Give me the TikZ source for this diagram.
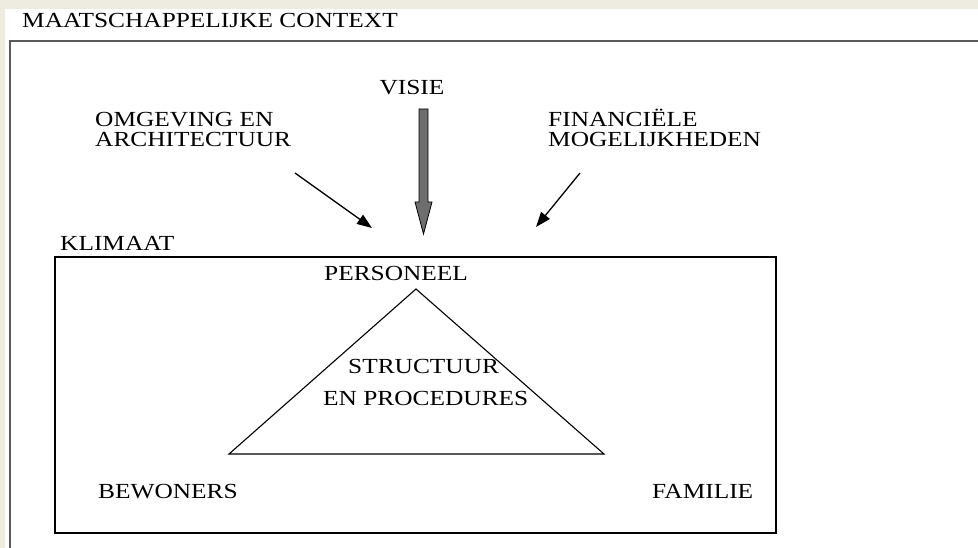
\documentclass[tikz,border=0pt]{standalone}
\usepackage{fontspec}
\setmainfont[FakeStretch=1.18]{Liberation Serif}
\usetikzlibrary{arrows.meta}
\definecolor{beige}{HTML}{EEECE1}
\definecolor{framegray}{HTML}{5A5A5A}
\definecolor{arrowfill}{HTML}{6E6E6E}
\tikzset{
  lbl/.style={inner sep=0pt, anchor=base west, font=\fontsize{21.5}{20}\selectfont, text=black},
  infl/.style={line width=1.3pt, -{Triangle[length=15pt,width=11pt]}},
  boxline/.style={line width=1.3pt, draw=black},
}
\begin{document}
\begin{tikzpicture}[x=1pt,y=-1pt]
\useasboundingbox (0,0) rectangle (978,548);
% background
\fill[beige] (0,0) rectangle (978,548);
\fill[white] (5,9) rectangle (978,548);
% outer frame (society context)
\draw[framegray, line width=1.3pt] (10,548) -- (10,41) -- (978,41);
\node[lbl] (ctx) at (22,28) {MAATSCHAPPELIJKE CONTEXT};
% influences
\node[lbl, anchor=base] (visie) at (412,95) {VISIE};
\node[lbl, align=left] (omg) at (95,147) {OMGEVING EN\\ARCHITECTUUR};
\node[lbl, align=left] (fin) at (548,147) {FINANCIËLE\\MOGELIJKHEDEN};
\coordinate (a1s) at (295,173);
\coordinate (a1e) at (372,228);
\coordinate (a2s) at (580,173);
\coordinate (a2e) at (536,227);
\draw[infl] (a1s) -- (a1e);
\draw[infl] (a2s) -- (a2e);
% big VISIE arrow
\coordinate (vtip) at (423.5,234);
\filldraw[fill=arrowfill, draw=black, line width=0.8pt]
  (419,109) -- (428,109) -- (428,202) -- (432,202) -- (vtip) -- (415,202) -- (419,202) -- cycle;
% climate box
\node[lbl] (klim) at (60,251) {KLIMAAT};
\draw[boxline] (55,257) rectangle (776,533);
% triangle
\coordinate (tt) at (416,289);
\coordinate (tl) at (229,454);
\coordinate (tr) at (604,454);
\draw[line width=1.1pt, line join=miter] (tt) -- (tl) -- (tr) -- cycle;
\node[lbl] (pers) at (324,281) {PERSONEEL};
\node[lbl] (str1) at (348,373) {STRUCTUUR};
\node[lbl] (str2) at (323,405) {EN PROCEDURES};
\node[lbl] (bew) at (98,498) {BEWONERS};
\node[lbl] (fam) at (652,498) {FAMILIE};
\end{tikzpicture}
\end{document}
